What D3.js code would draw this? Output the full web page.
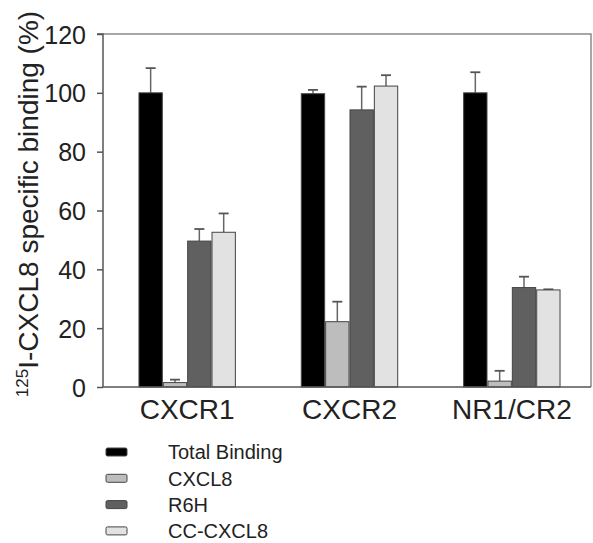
<!DOCTYPE html>
<html>
<head>
<meta charset="utf-8">
<script src="https://cdn.jsdelivr.net/npm/d3@7"></script>
<style>
  body { margin: 0; background: #fff; }
  text { font-family: "Liberation Sans", Arial, sans-serif; fill: #222; }
</style>
</head>
<body>
<svg id="chart" width="593" height="543"></svg>
<script>
// receptors on the x axis
const receptors = ['CXCR1', 'CXCR2', 'NR1/CR2']
// competitor series
const series = ['Total Binding', 'CXCL8', 'R6H', 'CC-CXCL8']
const seriesColors = ['#000000', '#bdbdbd', '#606060', '#e2e2e2']
// specific binding (%) per receptor, in series order
const values = [
  [100, 1.5, 49.6, 52.6],
  [99.7, 22.2, 94.2, 102.3],
  [100, 2, 33.8, 33]
]
// upper error (SD) per receptor
const errors = [
  [8.4, 1.0, 4.1, 6.4],
  [1.3, 6.8, 7.9, 3.7],
  [7.0, 3.5, 3.7, 0.2]
]
const yTicks = [0, 20, 40, 60, 80, 100, 120]

const svg = d3.select('#chart')
const frame = {left: 103, right: 591, top: 34, bottom: 387}

let y = d3.scaleLinear().domain([0, 120]).range([frame.bottom, frame.top])
let x0 = d3.scaleBand().domain(receptors).range([106, 593]).paddingInner(0.4).paddingOuter(0.2)
let x1 = d3.scaleBand().domain(series).range([0, x0.bandwidth()])
let color = d3.scaleOrdinal().domain(series).range(seriesColors)

// top and right frame
svg.append('path')
  .attr('d', `M${frame.left},${frame.top}H${frame.right}V${frame.bottom}`)
  .attr('fill', 'none')
  .attr('stroke', '#8a8a8a')
  .attr('stroke-width', 1.5)

// bars
let groups = svg.selectAll('.group')
  .data(receptors)
  .enter()
  .append('g')
  .classed('group', true)
  .attr('transform', (d) => `translate(${x0(d)},0)`)

let cells = groups.selectAll('.cell')
  .data((d, i) => series.map((s, j) => ({s: s, v: values[i][j], e: errors[i][j]})))
  .enter()

// error bars first so the bar covers the lower part
cells.append('line')
  .attr('x1', (d) => x1(d.s) + x1.bandwidth() / 2)
  .attr('x2', (d) => x1(d.s) + x1.bandwidth() / 2)
  .attr('y1', (d) => y(d.v))
  .attr('y2', (d) => y(d.v + d.e))
  .attr('stroke', '#666')
  .attr('stroke-width', 1.5)

cells.append('line')
  .attr('x1', (d) => x1(d.s) + x1.bandwidth() / 2 - 5)
  .attr('x2', (d) => x1(d.s) + x1.bandwidth() / 2 + 5)
  .attr('y1', (d) => y(d.v + d.e))
  .attr('y2', (d) => y(d.v + d.e))
  .attr('stroke', '#555')
  .attr('stroke-width', 1.8)

cells.append('rect')
  .attr('x', (d) => x1(d.s) + 0.5)
  .attr('y', (d) => y(d.v))
  .attr('width', x1.bandwidth() - 1)
  .attr('height', (d) => y(0) - y(d.v))
  .attr('fill', (d) => color(d.s))
  .attr('stroke', '#444')
  .attr('stroke-width', 1)

// y axis
let yAxis = svg.append('g')
  .attr('transform', `translate(${frame.left},0)`)
  .call(d3.axisLeft(y).tickValues(yTicks).tickSize(6).tickPadding(11))
yAxis.selectAll('text').style('font-size', '25px').attr('dy', '0.36em')
yAxis.selectAll('line, path').attr('stroke', '#555').attr('stroke-width', 1.5)
yAxis.select('.domain').attr('d', `M-6,${frame.top}H0V${frame.bottom}`)

// x axis
let xAxis = svg.append('g')
  .attr('transform', `translate(0,${frame.bottom})`)
  .call(d3.axisBottom(x0).tickSize(0).tickPadding(12))
xAxis.select('.domain').attr('d', `M${frame.left},0H${frame.right}`).attr('stroke', '#555').attr('stroke-width', 1.5)
xAxis.selectAll('text').style('font-size', '28px').attr('dy', '0.72em')

// y axis title
let title = svg.append('text')
  .attr('transform', 'translate(38,204) rotate(-90)')
  .attr('text-anchor', 'middle')
  .style('font-size', '28px')
title.append('tspan').text('125').style('font-size', '17px').attr('dy', '-10')
title.append('tspan').text('I-CXCL8 specific binding (%)').attr('dy', '10')

// legend
let legend = svg.selectAll('.legend')
  .data(series)
  .enter()
  .append('g')
  .classed('legend', true)
  .attr('transform', (d, i) => `translate(106,${452 + i * 26.3})`)

legend.append('rect')
  .attr('x', 0)
  .attr('y', -4)
  .attr('width', 21)
  .attr('height', 8)
  .attr('rx', 1.5)
  .attr('fill', (d) => color(d))
  .attr('stroke', '#444')
  .attr('stroke-width', 1)

legend.append('text')
  .attr('x', 62)
  .attr('dy', '0.36em')
  .style('font-size', '20px')
  .text((d) => d)
</script>
</body>
</html>
